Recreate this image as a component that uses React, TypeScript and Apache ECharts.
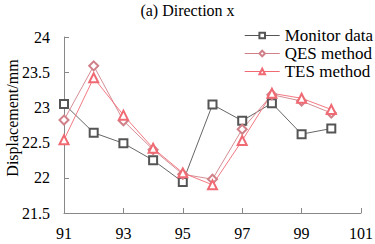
import React, { useEffect, useRef } from "react";
import * as echarts from "echarts";

const categories = ["91", "92", "93", "94", "95", "96", "97", "98", "99", "100", "101"];
const monitorData = [23.05, 22.64, 22.49, 22.25, 21.94, 23.04, 22.81, 23.06, 22.62, 22.7];
const qesData = [22.82, 23.59, 22.81, 22.4, 22.05, 21.98, 22.69, 23.18, 23.09, 22.92];
const tesData = [22.54, 23.42, 22.89, 22.42, 22.07, 21.9, 22.53, 23.2, 23.13, 22.97];
const yAxisName = "Displacement/mm";

const FONT = "Times New Roman, Liberation Serif, serif";

export default function App() {
  const ref = useRef<HTMLDivElement>(null);
  useEffect(() => {
    if (!ref.current) return;
    const chart = echarts.init(ref.current, undefined, { renderer: "svg" });
    const mkSeries = (name: string, data: number[], color: string, symbol: string, size: number) => ({
      name,
      type: "line",
      data,
      symbol,
      symbolSize: size,
      showAllSymbol: true,
      lineStyle: { color, width: 0.9 },
      itemStyle: { color, borderColor: color, borderWidth: 1 },
    });
    chart.setOption({
      animation: false,
      backgroundColor: "#fff",
      textStyle: { fontFamily: FONT },
      title: {
        text: "(a) Direction x",
        left: "center",
        top: -3,
        textStyle: { fontFamily: FONT, fontSize: 16, fontWeight: "normal", color: "#000" },
      },
      legend: {
        orient: "vertical",
        right: 2,
        top: 27,
        padding: 0,
        itemGap: 1,
        itemWidth: 35,
        itemHeight: 7,
        lineStyle: { width: 1 },
        itemStyle: { borderWidth: 1 },
        textStyle: { fontFamily: FONT, fontSize: 17, color: "#000" },
        data: ["Monitor data", "QES method", "TES method"],
      },
      graphic: [
        {
          type: "text",
          x: 12,
          y: 118,
          rotation: Math.PI / 2,
          style: {
            text: yAxisName,
            fontFamily: FONT,
            fontSize: 16,
            fill: "#000",
            align: "center",
            verticalAlign: "middle",
          },
        },
      ],
      grid: { left: 64, right: 14, top: 37, bottom: 31, containLabel: false, outerBoundsMode: "none" },
      xAxis: {
        type: "category",
        data: categories,
        boundaryGap: false,
        axisLine: { lineStyle: { color: "#888", width: 1 } },
        axisTick: { inside: true, length: 5, interval: 1, lineStyle: { color: "#888" } },
        axisLabel: { interval: 1, fontFamily: FONT, fontSize: 16, color: "#000", margin: 12 },
        splitLine: { show: false },
      },
      yAxis: {
        type: "value",
        min: 21.5,
        max: 24,
        interval: 0.5,
        axisLine: { show: true, lineStyle: { color: "#888", width: 1 } },
        axisTick: { show: true, inside: true, length: 5, lineStyle: { color: "#888" } },
        axisLabel: { fontFamily: FONT, fontSize: 16, color: "#000", margin: 14 },
        splitLine: { show: false },
      },
      series: [
        mkSeries("Monitor data", monitorData, "#555555", "emptyRect", 8),
        mkSeries("QES method", qesData, "#d08088", "emptyDiamond", 9),
        mkSeries("TES method", tesData, "#f06a74", "emptyTriangle", 9),
      ],
    });
    return () => chart.dispose();
  }, []);
  return <div ref={ref} style={{ width: 375, height: 244, position: "absolute", left: 0, top: 0 }} />;
}
